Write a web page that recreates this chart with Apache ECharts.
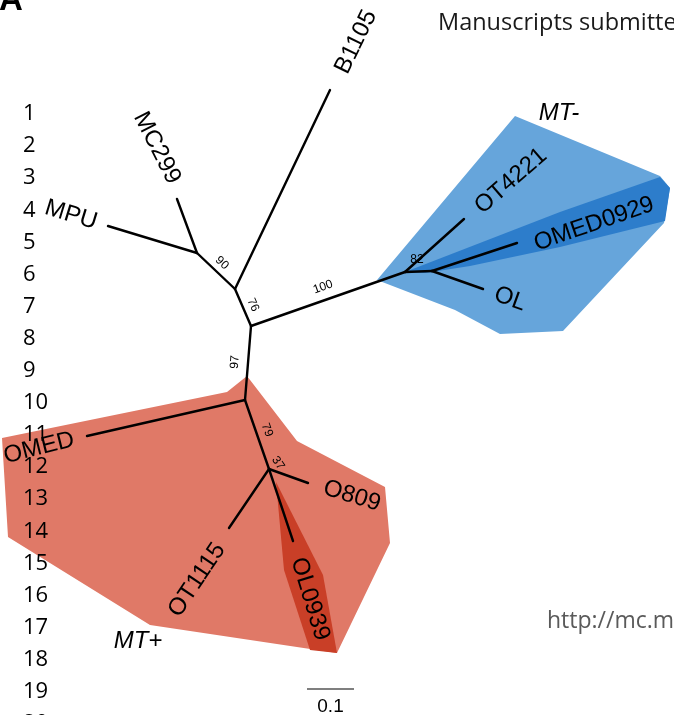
<!DOCTYPE html>
<html><head><meta charset="utf-8">
<script src="https://cdn.jsdelivr.net/npm/echarts@6/dist/echarts.min.js"></script>
<style>html,body{margin:0;padding:0;background:#fff;overflow:hidden}#c{width:674px;height:715px}</style>
</head><body><div id="c"></div>
<script>
// ---- tree data (node positions in plot units) ----
const nodeId = ['A','B','C','M2','M3','D','E','MPU','MC299','B1105','OT4221','OMED0929','OL','OMED','O809','OT1115','OL0939'];
const nodeX  = [197,235,251,405,432,245,269,108,177,330,464,517,483, 87,308,229,293];
const nodeY  = [253,289,326,272,271,400,469,226,199, 90,219,243,289,436,483,528,541];
const edgeFrom = ['A','A','A','B','B','C','M2','M2','M3','M3','C','D','D','E','E','E'];
const edgeTo   = ['MPU','MC299','B','B1105','C','M2','OT4221','M3','OMED0929','OL','D','OMED','E','O809','OT1115','OL0939'];

// tip labels
const tipNames = ['B1105','MC299','MPU','OT4221','OMED0929','OL','OMED','O809','OT1115','OL0939'];
// bootstrap support values
const supportVals = [90,76,100,82,97,79,37];

// clade groups
const cladeNames = ['MT-','MT+'];
const mtMinusHull = [[377,280],[515,116],[660,176],[670,188],[664,223],[563,331],[500,334],[455,310]];
const mtMinusCore = [[405,272],[560,212],[660,177],[670,188],[665,221],[560,247],[470,266],[425,273]];
const mtPlusHull  = [[247,376],[297,441],[385,487],[390,543],[337,653],[150,625],[8,537],[2,438],[227,392]];
const mtPlusCore  = [[276,482],[323,575],[337,653],[310,650],[284,570]];

// scale bar
const scaleBarValue = 0.1;
const scaleBarLen = 47; // plot units per 0.1 substitutions/site

// manuscript line numbers
const lineNumbers = [1,2,3,4,5,6,7,8,9,10,11,12,13,14,15,16,17,18,19,20];

// ---- layout (label placement, not data) ----
const tipLabelPos = {
  B1105:[356,42,64], MC299:[157,148,-63], MPU:[71,215,-17], OT4221:[511,181,41],
  OMED0929:[594,224,19], OL:[510,299,-20], OMED:[39,448,14], O809:[352,496,-17],
  OT1115:[197,580,56], OL0939:[310,599,-73]
};
const supportPos = [[222,263,-43],[253,305,-66],[323,287,20],[417,260,0],[235,362,86],[267,430,-70],[278,463,-55]];
const cladePos = [[559,113],[138,641]];

const idx = id => nodeId.indexOf(id);
const P = id => [nodeX[idx(id)], nodeY[idx(id)]];

const edgeData = edgeFrom.map((f,i)=>{const a=P(f), b=P(edgeTo[i]); return [a[0],a[1],b[0],b[1]];});
const tipData = tipNames.map(n=>{const p=tipLabelPos[n]; return {value:[p[0],p[1],p[2]], name:n};});
const supData = supportVals.map((v,i)=>({value:[supportPos[i][0],supportPos[i][1],supportPos[i][2]], name:String(v)}));
const cladeData = cladeNames.map((n,i)=>({value:[cladePos[i][0],cladePos[i][1],0], name:n}));
const lineNoData = lineNumbers.map((n,i)=>({value:[23, 114 + i*32.1, 0], name:String(n)}));

function polySeries(pts, color, z){
  return {type:'custom', z, silent:true, clip:false, data:[[pts[0][0],pts[0][1]]], encode:{x:0,y:1},
    renderItem:(params, api)=>({type:'polygon', shape:{points: pts.map(p=>api.coord(p))}, style:{fill:color}})};
}
function textSeries(data, font, align, z){
  return {type:'custom', z, silent:true, clip:false, data, encode:{x:0,y:1},
    renderItem:(params, api)=>{
      const c = api.coord([api.value(0), api.value(1)]);
      return {type:'text', x:c[0], y:c[1], rotation: api.value(2)*Math.PI/180,
        style:{text: data[params.dataIndex].name, font, fill:'#000', align, verticalAlign:'middle'}};
    }};
}

const chart = echarts.init(document.getElementById('c'), null, {renderer:'canvas'});
chart.setOption({
  animation:false,
  grid:{left:0,right:0,top:0,bottom:0},
  xAxis:{type:'value', min:0, max:674, show:false},
  yAxis:{type:'value', min:0, max:715, inverse:true, show:false},
  series:[
    polySeries(mtMinusHull,'#66a5db',1),
    polySeries(mtMinusCore,'#2d7dcb',2),
    polySeries(mtPlusHull,'#e07967',1),
    polySeries(mtPlusCore,'#c93f27',2),
    {type:'custom', z:5, silent:true, clip:false, data:edgeData, encode:{x:[0,2], y:[1,3]},
      renderItem:(params, api)=>{
        const a = api.coord([api.value(0), api.value(1)]), b = api.coord([api.value(2), api.value(3)]);
        return {type:'line', shape:{x1:a[0],y1:a[1],x2:b[0],y2:b[1]}, style:{stroke:'#000', lineWidth:2.4, lineCap:'round'}};
      }},
    textSeries(tipData, '24px "Liberation Sans"', 'center', 6),
    textSeries(supData, '12px "Liberation Sans"', 'center', 6),
    textSeries(cladeData, 'italic 24px "Liberation Sans"', 'center', 6),
    textSeries(lineNoData, '22px "Open Sans"', 'left', 6),
    // scale bar
    {type:'custom', z:6, silent:true, clip:false, data:[[307,689,307+scaleBarLen,689]], encode:{x:[0,2],y:[1,3]},
      renderItem:(params, api)=>{
        const a = api.coord([api.value(0), api.value(1)]), b = api.coord([api.value(2), api.value(3)]);
        return {type:'group', children:[
          {type:'line', shape:{x1:a[0],y1:a[1],x2:b[0],y2:b[1]}, style:{stroke:'#000', lineWidth:1.2}},
          {type:'text', x:(a[0]+b[0])/2, y:a[1]+18, style:{text:String(scaleBarValue), font:'19px "Liberation Sans"', fill:'#000', align:'center', verticalAlign:'middle'}}
        ]};
      }}
  ],
  graphic:[
    {type:'text', x:-1, y:-16, silent:true, z:10,
      style:{text:'A', font:'bold 33px "Liberation Sans"', fill:'#000'}},
    {type:'text', x:438, y:23, silent:true, z:10,
      style:{text:'Manuscripts submitted to Journal of Phycology', font:'23.5px "Open Sans"', fill:'#1a1a1a', verticalAlign:'middle'}},
    {type:'text', x:547, y:621, silent:true, z:10,
      style:{text:'http://mc.manuscriptcentral.com/jpy', font:'23px "Open Sans"', fill:'#5a5a5a', verticalAlign:'middle'}}
  ]
});
</script>
</body></html>
